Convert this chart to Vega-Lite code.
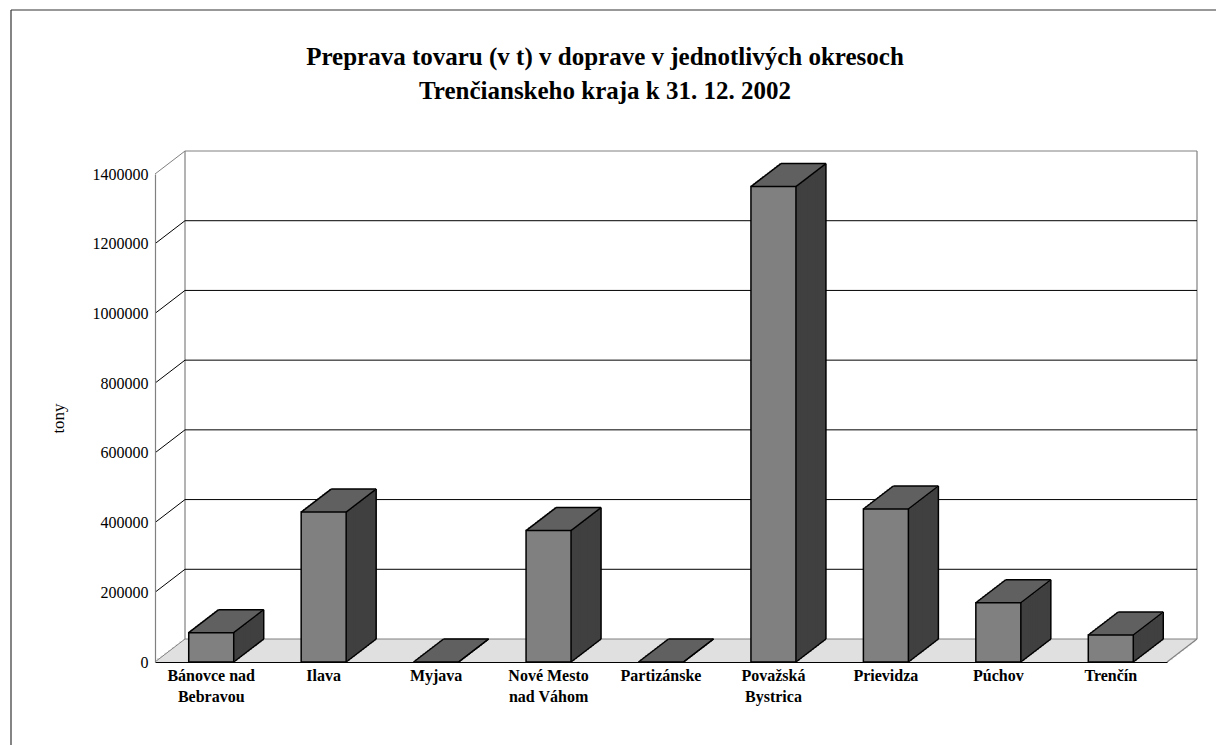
{
  "$schema": "https://vega.github.io/schema/vega-lite/v6.json",
  "width": 1012,
  "height": 488,
  "autosize": {"type": "none"},
  "padding": {"left": 155, "top": 174, "right": 49, "bottom": 83},
  "background": "white",
  "config": {"view": {"stroke": null}, "font": "Liberation Serif"},
  "title": {
    "text": ["Preprava tovaru (v t) v doprave v jednotlivých okresoch", "Trenčianskeho kraja k 31. 12. 2002"],
    "font": "Liberation Serif",
    "fontSize": 25,
    "fontWeight": "bold",
    "color": "black",
    "lineHeight": 34,
    "anchor": "middle",
    "frame": "group",
    "dx": -56,
    "offset": -95
  },
  "datasets": {
    "bars": [
      {"okres": "Bánovce nad Bebravou", "tony": 84000},
      {"okres": "Ilava", "tony": 430000},
      {"okres": "Myjava", "tony": 0},
      {"okres": "Nové Mesto nad Váhom", "tony": 377000},
      {"okres": "Partizánske", "tony": 0},
      {"okres": "Považská Bystrica", "tony": 1364000},
      {"okres": "Prievidza", "tony": 439000},
      {"okres": "Púchov", "tony": 170000},
      {"okres": "Trenčín", "tony": 77500}
    ],
    "grid": [
      {"tony": 0}, {"tony": 200000}, {"tony": 400000}, {"tony": 600000},
      {"tony": 800000}, {"tony": 1000000}, {"tony": 1200000}, {"tony": 1400000}
    ],
    "one": [{}]
  },
  "layer": [
    {
      "data": {"name": "one"},
      "encoding": {
        "x": {"datum": "Bánovce nad Bebravou", "type": "nominal", "bandPosition": 0},
        "x2": {"datum": "Trenčín", "bandPosition": 1},
        "y": {"datum": 0, "type": "quantitative"}
      },
      "layer": [
        {"mark": {"type": "rule", "stroke": "#e0e0e0", "strokeWidth": 4, "strokeCap": "butt", "xOffset": 1.875, "x2Offset": 1.875, "yOffset": -1.9}},
        {"mark": {"type": "rule", "stroke": "#e0e0e0", "strokeWidth": 4, "strokeCap": "butt", "xOffset": 5.625, "x2Offset": 5.625, "yOffset": -4.31}},
        {"mark": {"type": "rule", "stroke": "#e0e0e0", "strokeWidth": 4, "strokeCap": "butt", "xOffset": 9.375, "x2Offset": 9.375, "yOffset": -7.19}},
        {"mark": {"type": "rule", "stroke": "#e0e0e0", "strokeWidth": 4, "strokeCap": "butt", "xOffset": 13.125, "x2Offset": 13.125, "yOffset": -10.06}},
        {"mark": {"type": "rule", "stroke": "#e0e0e0", "strokeWidth": 4, "strokeCap": "butt", "xOffset": 16.875, "x2Offset": 16.875, "yOffset": -12.94}},
        {"mark": {"type": "rule", "stroke": "#e0e0e0", "strokeWidth": 4, "strokeCap": "butt", "xOffset": 20.625, "x2Offset": 20.625, "yOffset": -15.81}},
        {"mark": {"type": "rule", "stroke": "#e0e0e0", "strokeWidth": 4, "strokeCap": "butt", "xOffset": 24.375, "x2Offset": 24.375, "yOffset": -18.69}},
        {"mark": {"type": "rule", "stroke": "#e0e0e0", "strokeWidth": 3.2, "strokeCap": "butt", "xOffset": 28.125, "x2Offset": 28.125, "yOffset": -21.4}},
        {"mark": {"type": "rule", "stroke": "#333333", "strokeWidth": 1.2, "xOffset": -144, "x2Offset": 49, "yOffset": -164}, "encoding": {"y": {"datum": 1400000, "type": "quantitative"}}}
      ]
    },
    {
      "data": {"name": "one"},
      "layer": [
        {
          "mark": {"type": "rule", "stroke": "#808080", "strokeWidth": 1.2, "xOffset": 30, "yOffset": -23, "y2Offset": -23},
          "encoding": {
            "x": {"datum": "Bánovce nad Bebravou", "type": "nominal", "bandPosition": 0},
            "y": {"datum": 0, "type": "quantitative"},
            "y2": {"datum": 1400000}
          }
        },
        {
          "mark": {"type": "rule", "stroke": "#808080", "strokeWidth": 1.2, "xOffset": 30, "yOffset": -23, "y2Offset": -23},
          "encoding": {
            "x": {"datum": "Trenčín", "type": "nominal", "bandPosition": 1},
            "y": {"datum": 0, "type": "quantitative"},
            "y2": {"datum": 1400000}
          }
        },
        {
          "mark": {"type": "rule", "stroke": "#808080", "strokeWidth": 1.2, "x2Offset": 30, "y2Offset": -23},
          "encoding": {
            "x": {"datum": "Trenčín", "type": "nominal", "bandPosition": 1},
            "x2": {"datum": "Trenčín", "bandPosition": 1},
            "y": {"datum": 0, "type": "quantitative"},
            "y2": {"datum": 0}
          }
        },
        {
          "mark": {"type": "rule", "stroke": "#333333", "strokeWidth": 1.2, "xOffset": -144, "yOffset": -164, "y2Offset": 83},
          "encoding": {
            "x": {"datum": "Bánovce nad Bebravou", "type": "nominal", "bandPosition": 0},
            "y": {"datum": 1400000, "type": "quantitative"},
            "y2": {"datum": 0}
          }
        }
      ]
    },
    {
      "data": {"name": "grid"},
      "encoding": {
        "y": {"field": "tony", "type": "quantitative"},
        "stroke": {
          "condition": {"test": "datum.tony == 0 || datum.tony == 1400000", "value": "#808080"},
          "value": "#000000"
        }
      },
      "layer": [
        {
          "mark": {"type": "rule", "strokeWidth": 1, "xOffset": 30, "x2Offset": 30, "yOffset": -23},
          "encoding": {
            "x": {"datum": "Bánovce nad Bebravou", "type": "nominal", "bandPosition": 0},
            "x2": {"datum": "Trenčín", "bandPosition": 1}
          }
        },
        {
          "mark": {"type": "rule", "strokeWidth": 1, "x2Offset": 30, "y2Offset": -23},
          "encoding": {
            "x": {"datum": "Bánovce nad Bebravou", "type": "nominal", "bandPosition": 0},
            "x2": {"datum": "Bánovce nad Bebravou", "bandPosition": 0},
            "y2": {"field": "tony"}
          }
        }
      ]
    },
    {
      "data": {"name": "bars"},
      "encoding": {
        "x": {
          "field": "okres",
          "type": "nominal",
          "title": null,
          "scale": {
            "type": "band",
            "domain": ["Bánovce nad Bebravou", "Ilava", "Myjava", "Nové Mesto nad Váhom", "Partizánske", "Považská Bystrica", "Prievidza", "Púchov", "Trenčín"],
            "paddingInner": 0,
            "paddingOuter": 0
          },
          "axis": {
            "domain": true,
            "domainColor": "#000000",
            "domainWidth": 1,
            "ticks": false,
            "grid": false,
            "labelAngle": 0,
            "labelAlign": "center",
            "labelBaseline": "top",
            "labelFont": "Liberation Serif",
            "labelFontSize": 16,
            "labelFontWeight": "bold",
            "labelColor": "#000000",
            "labelPadding": 5,
            "labelLineHeight": 21,
            "labelOverlap": false,
            "labelLimit": 0,
            "zindex": 1,
            "labelExpr": "datum.label == 'Bánovce nad Bebravou' ? ['Bánovce nad', 'Bebravou'] : datum.label == 'Nové Mesto nad Váhom' ? ['Nové Mesto', 'nad Váhom'] : datum.label == 'Považská Bystrica' ? ['Považská', 'Bystrica'] : datum.label"
          }
        },
        "y": {
          "field": "tony",
          "type": "quantitative",
          "title": "tony",
          "scale": {"domain": [0, 1400000], "nice": false, "zero": true},
          "axis": {
            "values": [0, 200000, 400000, 600000, 800000, 1000000, 1200000, 1400000],
            "format": "d",
            "grid": false,
            "ticks": false,
            "domain": true,
            "domainColor": "#808080",
            "domainWidth": 1.2,
            "labelFont": "Liberation Serif",
            "labelFontSize": 16,
            "labelColor": "#000000",
            "labelPadding": 7,
            "titleFont": "Liberation Serif",
            "titleFontSize": 17,
            "titleFontWeight": "normal",
            "titleColor": "#000000",
            "titleAngle": 270,
            "titleAlign": "center",
            "titleBaseline": "middle",
            "titleX": -97,
            "titleY": 244,
            "zindex": 1
          }
        }
      },
      "layer": [
        {
          "encoding": {"y2": {"datum": 0}},
          "layer": [
            {"mark": {"type": "bar", "width": 3.5, "fill": "#404040", "xOffset": 24.25, "yOffset": -1.34, "y2Offset": -1.34}},
            {"mark": {"type": "bar", "width": 3.5, "fill": "#404040", "xOffset": 26.66, "yOffset": -3.19, "y2Offset": -3.19}},
            {"mark": {"type": "bar", "width": 3.5, "fill": "#404040", "xOffset": 29.07, "yOffset": -5.04, "y2Offset": -5.04}},
            {"mark": {"type": "bar", "width": 3.5, "fill": "#404040", "xOffset": 31.48, "yOffset": -6.88, "y2Offset": -6.88}},
            {"mark": {"type": "bar", "width": 3.5, "fill": "#404040", "xOffset": 33.89, "yOffset": -8.73, "y2Offset": -8.73}},
            {"mark": {"type": "bar", "width": 3.5, "fill": "#404040", "xOffset": 36.30, "yOffset": -10.58, "y2Offset": -10.58}},
            {"mark": {"type": "bar", "width": 3.5, "fill": "#404040", "xOffset": 38.70, "yOffset": -12.42, "y2Offset": -12.42}},
            {"mark": {"type": "bar", "width": 3.5, "fill": "#404040", "xOffset": 41.11, "yOffset": -14.27, "y2Offset": -14.27}},
            {"mark": {"type": "bar", "width": 3.5, "fill": "#404040", "xOffset": 43.52, "yOffset": -16.12, "y2Offset": -16.12}},
            {"mark": {"type": "bar", "width": 3.5, "fill": "#404040", "xOffset": 45.93, "yOffset": -17.96, "y2Offset": -17.96}},
            {"mark": {"type": "bar", "width": 3.5, "fill": "#404040", "xOffset": 48.34, "yOffset": -19.81, "y2Offset": -19.81}},
            {"mark": {"type": "bar", "width": 3.5, "fill": "#404040", "xOffset": 50.75, "yOffset": -21.66, "y2Offset": -21.66}}
          ]
        },
        {
          "encoding": {"y2": {"field": "tony"}},
          "layer": [
            {"mark": {"type": "bar", "width": 45, "fill": "#606060", "xOffset": 1.96, "yOffset": 0, "y2Offset": -3}},
            {"mark": {"type": "bar", "width": 45, "fill": "#606060", "xOffset": 4.33, "yOffset": -1.82, "y2Offset": -4.82}},
            {"mark": {"type": "bar", "width": 45, "fill": "#606060", "xOffset": 6.70, "yOffset": -3.64, "y2Offset": -6.64}},
            {"mark": {"type": "bar", "width": 45, "fill": "#606060", "xOffset": 9.07, "yOffset": -5.45, "y2Offset": -8.45}},
            {"mark": {"type": "bar", "width": 45, "fill": "#606060", "xOffset": 11.44, "yOffset": -7.27, "y2Offset": -10.27}},
            {"mark": {"type": "bar", "width": 45, "fill": "#606060", "xOffset": 13.81, "yOffset": -9.09, "y2Offset": -12.09}},
            {"mark": {"type": "bar", "width": 45, "fill": "#606060", "xOffset": 16.18, "yOffset": -10.91, "y2Offset": -13.91}},
            {"mark": {"type": "bar", "width": 45, "fill": "#606060", "xOffset": 18.56, "yOffset": -12.73, "y2Offset": -15.73}},
            {"mark": {"type": "bar", "width": 45, "fill": "#606060", "xOffset": 20.93, "yOffset": -14.55, "y2Offset": -17.55}},
            {"mark": {"type": "bar", "width": 45, "fill": "#606060", "xOffset": 23.30, "yOffset": -16.36, "y2Offset": -19.36}},
            {"mark": {"type": "bar", "width": 45, "fill": "#606060", "xOffset": 25.67, "yOffset": -18.18, "y2Offset": -21.18}},
            {"mark": {"type": "bar", "width": 45, "fill": "#606060", "xOffset": 28.04, "yOffset": -20, "y2Offset": -23}}
          ]
        },
        {
          "mark": {"type": "bar", "width": 45, "fill": "#808080", "stroke": "#000000", "strokeWidth": 1.5},
          "encoding": {"y2": {"datum": 0}}
        },
        {
          "mark": {"type": "rule", "stroke": "#000000", "strokeWidth": 1.5, "xOffset": -22.5, "x2Offset": 7.5, "y2Offset": -23},
          "encoding": {"x2": {"field": "okres"}, "y2": {"field": "tony"}}
        },
        {
          "mark": {"type": "rule", "stroke": "#000000", "strokeWidth": 1.5, "xOffset": 22.5, "x2Offset": 52.5, "y2Offset": -23},
          "encoding": {"x2": {"field": "okres"}, "y2": {"field": "tony"}}
        },
        {
          "mark": {"type": "rule", "stroke": "#000000", "strokeWidth": 1.5, "xOffset": 7.5, "x2Offset": 52.5, "yOffset": -23, "y2Offset": -23},
          "encoding": {"x2": {"field": "okres"}, "y2": {"field": "tony"}}
        },
        {
          "mark": {"type": "rule", "stroke": "#000000", "strokeWidth": 1.5, "xOffset": 52.5, "yOffset": -23, "y2Offset": -23},
          "encoding": {"y2": {"datum": 0}}
        },
        {
          "mark": {"type": "rule", "stroke": "#000000", "strokeWidth": 1.5, "xOffset": 22.5, "x2Offset": 52.5, "y2Offset": -23},
          "encoding": {"x2": {"field": "okres"}, "y": {"datum": 0, "type": "quantitative"}, "y2": {"datum": 0}}
        }
      ]
    }
  ]
}
